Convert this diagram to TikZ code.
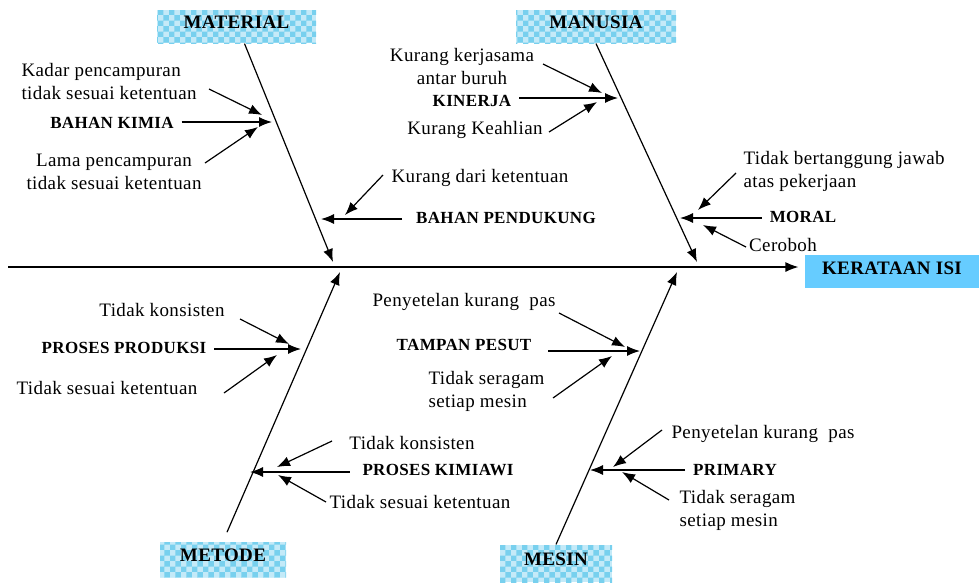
\documentclass[tikz,border=0pt]{standalone}
\usepackage{fontspec}
\setmainfont{Liberation Serif}[LetterSpace=2]
\usetikzlibrary{arrows.meta}
\usetikzlibrary{patterns}
\definecolor{boxlight}{RGB}{196,234,248}
\definecolor{boxdot}{RGB}{120,208,238}
\definecolor{effblue}{RGB}{102,204,255}

\begin{document}
\begin{tikzpicture}[x=1pt,y=-1pt,->,>={Latex[length=13pt,width=10pt]},line width=1.2pt,
    head node/.style={fill=boxlight,postaction={pattern=checkerboard,pattern color=boxdot},font=\bfseries\fontsize{19}{23}\selectfont,minimum height=33pt,inner sep=0pt,text height=13pt,text depth=9pt},
    cause node/.style={font=\bfseries\fontsize{17}{21}\selectfont,inner sep=0pt,outer sep=8pt},
    note node/.style={font=\fontsize{19}{23}\selectfont,inner sep=0pt}]
   \useasboundingbox (0,0) rectangle (979,582);
   % heads and effect
   \node[head node,minimum width=159pt] (mat) at (236.5,26.5) {MATERIAL};
   \node[head node,minimum width=160pt] (man) at (596,26.5) {MANUSIA};
   \node[head node,minimum width=126pt,minimum height=35pt] (met) at (223,559.5) {METODE};
   \node[head node,minimum width=112pt,minimum height=37pt] (mes) at (556,563.5) {MESIN};
   \node[font=\bfseries\fontsize{19}{23}\selectfont,fill=effblue,minimum width=174pt,minimum height=33pt,inner sep=0pt,text height=13pt,text depth=7pt] (eff) at (892,271.5) {KERATAAN ISI};
   % material
   \node[note node,anchor=west,align=left] (kad) at (21,81) {Kadar pencampuran\\tidak sesuai ketentuan};
   \node[cause node] (bk) at (112,123) {BAHAN KIMIA};
   \node[note node,align=center] (lam) at (114,172) {Lama pencampuran\\tidak sesuai ketentuan};
   \node[note node] (krd) at (480,178) {Kurang dari ketentuan};
   \node[cause node] (bp) at (506,218) {BAHAN PENDUKUNG};
   % manusia
   \node[note node,align=center] (kjs) at (462,66) {Kurang kerjasama\\antar buruh};
   \node[cause node] (kin) at (472,101) {KINERJA};
   \node[note node] (kah) at (475,130) {Kurang Keahlian};
   \node[note node,anchor=west,align=left] (tbj) at (743,171) {Tidak bertanggung jawab\\atas pekerjaan};
   \node[cause node] (mor) at (803,217) {MORAL};
   \node[note node] (cer) at (783,245) {Ceroboh};
   % metode
   \node[note node] (tk1) at (162,310) {Tidak konsisten};
   \node[cause node] (pp) at (124,348) {PROSES PRODUKSI};
   \node[note node] (ts1) at (107,388) {Tidak sesuai ketentuan};
   \node[note node] (tk2) at (412,443) {Tidak konsisten};
   \node[cause node] (pk) at (438,470) {PROSES KIMIAWI};
   \node[note node] (ts2) at (420,502) {Tidak sesuai ketentuan};
   % mesin
   \node[note node] (pk1) at (464,302) {Penyetelan kurang~ pas};
   \node[cause node] (tp) at (464,345) {TAMPAN PESUT};
   \node[note node,anchor=west,align=left] (sg1) at (428,391) {Tidak seragam\\setiap mesin};
   \node[note node] (pk2) at (763,434) {Penyetelan kurang~ pas};
   \node[cause node] (pri) at (735,470) {PRIMARY};
   \node[note node,anchor=west,align=left] (sg2) at (679,510) {Tidak seragam\\setiap mesin};

   % spine and bones
   \coordinate (tail) at (8,267);
   \coordinate (mat end) at (333,262);
   \coordinate (man end) at (697,262);
   \coordinate (met end) at (340,272);
   \coordinate (mes end) at (677,272);
   \path[->] (tail) edge[shorten >=6pt] (eff.west |- tail);
   \path[->] ([xshift=8pt]mat.south) edge (mat end);
   \path[->] (man.south) edge (man end);
   \path[->] (met.north) edge[shorten <=10pt] (met end);
   \path[->] (mes.north) edge (mes end);

   % cause arrows
   \coordinate (bk tip) at (272,122);
   \coordinate (bp tip) at (321,219);
   \coordinate (kin tip) at (618,98);
   \coordinate (mor tip) at (680,218);
   \coordinate (pp tip) at (301,349);
   \coordinate (pk tip) at (250,472);
   \coordinate (tp tip) at (640,351);
   \coordinate (pri tip) at (590,470);
   \path[->] (bk.east |- bk tip) edge (bk tip);
   \path[->] (bp.west |- bp tip) edge[shorten <=6pt] (bp tip);
   \path[->] (kin.east |- kin tip) edge (kin tip);
   \path[->] (mor.west |- mor tip) edge (mor tip);
   \path[->] (pp.east |- pp tip) edge (pp tip);
   \path[->] (pk.west |- pk tip) edge[shorten <=5pt] (pk tip);
   \path[->] (tp.east |- tp tip) edge[shorten <=9pt] (tp tip);
   \path[->] (pri.west |- pri tip) edge (pri tip);

   % sub cause arrows
   \coordinate (kad1) at (209,89);   \coordinate (kad2) at (262,115);
   \coordinate (lam1) at (205,163);  \coordinate (lam2) at (258,127);
   \coordinate (krd1) at (383,175);  \coordinate (krd2) at (345,215);
   \coordinate (kjs1) at (543,64);   \coordinate (kjs2) at (602,93);
   \coordinate (kah1) at (549,132);  \coordinate (kah2) at (597,102);
   \coordinate (tbj1) at (736,173);  \coordinate (tbj2) at (698,210);
   \coordinate (cer1) at (746,247);  \coordinate (cer2) at (703,225);
   \coordinate (tk11) at (240,319);  \coordinate (tk12) at (289,344);
   \coordinate (ts11) at (224,393);  \coordinate (ts12) at (277,355);
   \coordinate (tk21) at (332,441);  \coordinate (tk22) at (277,467);
   \coordinate (ts21) at (326,502);  \coordinate (ts22) at (278,475);
   \coordinate (pk11) at (559,313);  \coordinate (pk12) at (625,347);
   \coordinate (sg11) at (553,398);  \coordinate (sg12) at (612,356);
   \coordinate (pk21) at (662,430);  \coordinate (pk22) at (613,467);
   \coordinate (sg21) at (669,500);  \coordinate (sg22) at (622,472);
   \path[->] (kad1) edge (kad2);
   \path[->] (lam1) edge (lam2);
   \path[->] (krd1) edge (krd2);
   \path[->] (kjs1) edge (kjs2);
   \path[->] (kah1) edge (kah2);
   \path[->] (tbj1) edge (tbj2);
   \path[->] (cer1) edge (cer2);
   \path[->] (tk11) edge (tk12);
   \path[->] (ts11) edge (ts12);
   \path[->] (tk21) edge (tk22);
   \path[->] (ts21) edge (ts22);
   \path[->] (pk11) edge (pk12);
   \path[->] (sg11) edge (sg12);
   \path[->] (pk21) edge (pk22);
   \path[->] (sg21) edge (sg22);
\end{tikzpicture}
\end{document}
